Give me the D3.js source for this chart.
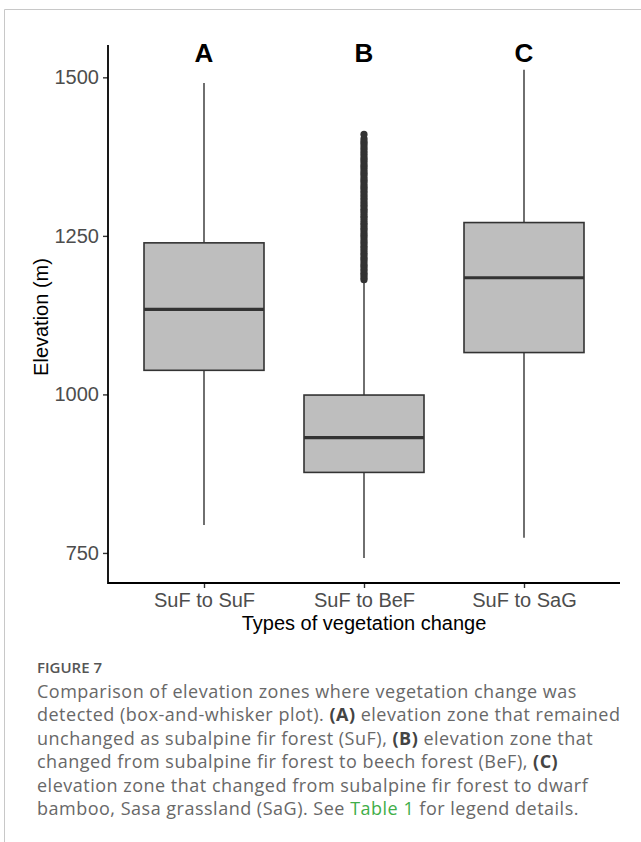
<!DOCTYPE html>
<html>
<head>
<meta charset="utf-8">
<script src="https://cdn.jsdelivr.net/npm/d3@7"></script>
<style>
	body { margin: 0; background: #fff; }
	svg { display: block; }
	.axis-text { font-family: "Liberation Sans", Arial, sans-serif; }
	.caption { font-family: "Open Sans", "Noto Sans", sans-serif; }
</style>
</head>
<body>
<div id="chart"></div>
<script>
// data
var categories = ["SuF to SuF", "SuF to BeF", "SuF to SaG"];
var groupLetters = ["A", "B", "C"];
var whiskerLow = [794, 742, 774];
var q1 = [1038, 877, 1066];
var median = [1134, 932, 1184];
var q3 = [1239, 999, 1271];
var whiskerHigh = [1491, 1177, 1512];
var yTicks = [750, 1000, 1250, 1500];
// outliers of SuF to BeF (dense column above the upper whisker)
var outliersBeF = [1181, 1184, 1188, 1191, 1195, 1198, 1202, 1205, 1209, 1213,
	1216, 1220, 1223, 1227, 1231, 1234, 1238, 1241, 1245, 1249,
	1252, 1256, 1260, 1263, 1267, 1270, 1274, 1278, 1281, 1285,
	1289, 1292, 1296, 1299, 1303, 1307, 1310, 1314, 1318, 1321,
	1325, 1328, 1332, 1336, 1339, 1343, 1347, 1350, 1354, 1358,
	1361, 1365, 1369, 1372, 1376, 1380, 1384, 1388, 1392, 1396,
	1399, 1403, 1410];

var captionLines = [
	[{t: "Comparison of elevation zones where vegetation change was"}],
	[{t: "detected (box-and-whisker plot). "}, {t: "(A)", b: true}, {t: " elevation zone that remained"}],
	[{t: "unchanged as subalpine fir forest (SuF), "}, {t: "(B)", b: true}, {t: " elevation zone that"}],
	[{t: "changed from subalpine fir forest to beech forest (BeF), "}, {t: "(C)", b: true}],
	[{t: "elevation zone that changed from subalpine fir forest to dwarf"}],
	[{t: "bamboo, Sasa grassland (SaG). See "}, {t: "Table 1", g: true}, {t: " for legend details."}]
];

var width = 641, height = 842;
var plot = {left: 108, right: 620, top: 45, bottom: 583};

var svg = d3.select("#chart").append("svg")
	.attr("width", width)
	.attr("height", height);

// frame lines of the figure panel
svg.append("line").attr("x1", 4.5).attr("x2", width).attr("y1", 9.5).attr("y2", 9.5)
	.style("stroke", "#c8c8c8").style("stroke-width", 1);
svg.append("line").attr("x1", 4.5).attr("x2", 4.5).attr("y1", 9.5).attr("y2", height)
	.style("stroke", "#c8c8c8").style("stroke-width", 1);

// scales
var xScale = d3.scalePoint()
	.domain(categories)
	.range([plot.left, plot.right])
	.padding(0.6);
var yScale = d3.scaleLinear()
	.domain([702.6, 1551])
	.range([plot.bottom, plot.top]);

var boxWidth = xScale.step() * 0.75;
var boxColour = "#bebebe", lineColour = "#333333";

var boxData = categories.map(function(c, i) {
	return {cat: c, letter: groupLetters[i], lo: whiskerLow[i], q1: q1[i], med: median[i], q3: q3[i], hi: whiskerHigh[i]};
});

var boxGroups = svg.selectAll(".box-group")
	.data(boxData)
	.enter()
	.append("g")
	.attr("class", "box-group")
	.attr("transform", function(d) { return "translate(" + xScale(d.cat) + ",0)"; });

boxGroups.each(function(d) {
	var g = d3.select(this);
	g.append("line")
		.attr("x1", 0).attr("x2", 0)
		.attr("y1", yScale(d.hi)).attr("y2", yScale(d.q3))
		.style("stroke", lineColour).style("stroke-width", 1.4);
	g.append("line")
		.attr("x1", 0).attr("x2", 0)
		.attr("y1", yScale(d.q1)).attr("y2", yScale(d.lo))
		.style("stroke", lineColour).style("stroke-width", 1.4);
	g.append("rect")
		.attr("x", -boxWidth / 2)
		.attr("y", yScale(d.q3))
		.attr("width", boxWidth)
		.attr("height", yScale(d.q1) - yScale(d.q3))
		.style("fill", boxColour)
		.style("stroke", lineColour)
		.style("stroke-width", 1.6);
	g.append("line")
		.attr("x1", -boxWidth / 2).attr("x2", boxWidth / 2)
		.attr("y1", yScale(d.med)).attr("y2", yScale(d.med))
		.style("stroke", lineColour).style("stroke-width", 3.2);
});

// outliers
svg.selectAll(".outlier")
	.data(outliersBeF)
	.enter()
	.append("circle")
	.attr("class", "outlier")
	.attr("cx", xScale(categories[1]))
	.attr("cy", function(d) { return yScale(d); })
	.attr("r", 3.6)
	.style("fill", lineColour);

// group letters
svg.selectAll(".letter")
	.data(boxData)
	.enter()
	.append("text")
	.attr("class", "letter axis-text")
	.attr("x", function(d) { return xScale(d.cat); })
	.attr("y", 62)
	.style("text-anchor", "middle")
	.style("font-size", "26px")
	.style("font-weight", "bold")
	.style("fill", "#000")
	.text(function(d) { return d.letter; });

// axes
var yAxis = d3.axisLeft(yScale).tickValues(yTicks).tickFormat(d3.format("d")).tickSize(5).tickPadding(4);
var xAxis = d3.axisBottom(xScale).tickSize(5).tickPadding(5);

var gy = svg.append("g")
	.attr("class", "axis y")
	.attr("transform", "translate(" + plot.left + ",0)")
	.call(yAxis);
var gx = svg.append("g")
	.attr("class", "axis x")
	.attr("transform", "translate(0," + plot.bottom + ")")
	.call(xAxis);

[gx, gy].forEach(function(g) {
	g.select(".domain").remove();
	g.selectAll(".tick line").style("stroke", "#333").style("stroke-width", 1.4);
	g.selectAll(".tick text")
		.style("font-family", "'Liberation Sans', Arial, sans-serif")
		.style("font-size", "20px")
		.style("fill", "#4d4d4d");
});

// axis lines drawn over the ends
svg.append("path")
	.attr("d", "M" + plot.left + "," + plot.top + "V" + plot.bottom + "H" + plot.right)
	.style("fill", "none")
	.style("stroke", "#000")
	.style("stroke-width", 1.8);

// axis titles
svg.append("text")
	.attr("class", "axis-text")
	.attr("transform", "translate(48," + ((plot.top + plot.bottom) / 2 + 3) + ") rotate(-90)")
	.style("text-anchor", "middle")
	.style("font-size", "20px")
	.style("fill", "#000")
	.text("Elevation (m)");
svg.append("text")
	.attr("class", "axis-text")
	.attr("x", (plot.left + plot.right) / 2)
	.attr("y", 630)
	.style("text-anchor", "middle")
	.style("font-size", "20px")
	.style("fill", "#000")
	.text("Types of vegetation change");

// caption
svg.append("text")
	.attr("class", "caption")
	.attr("x", 37)
	.attr("y", 673)
	.style("font-size", "15px")
	.style("font-weight", 600)
	.style("fill", "#555")
	.text("FIGURE 7");

var capText = svg.append("text")
	.attr("class", "caption")
	.style("font-size", "18px")
	.style("letter-spacing", "0.5px")
	.style("fill", "#686868");
captionLines.forEach(function(line, i) {
	var first = true;
	line.forEach(function(seg) {
		var ts = capText.append("tspan").text(seg.t);
		if (first) {
			ts.attr("x", 37).attr("y", 698 + i * 23.4);
			first = false;
		}
		if (seg.b) ts.style("font-weight", "bold").style("fill", "#444");
		if (seg.g) ts.style("fill", "#3fae49");
	});
});
</script>
</body>
</html>
